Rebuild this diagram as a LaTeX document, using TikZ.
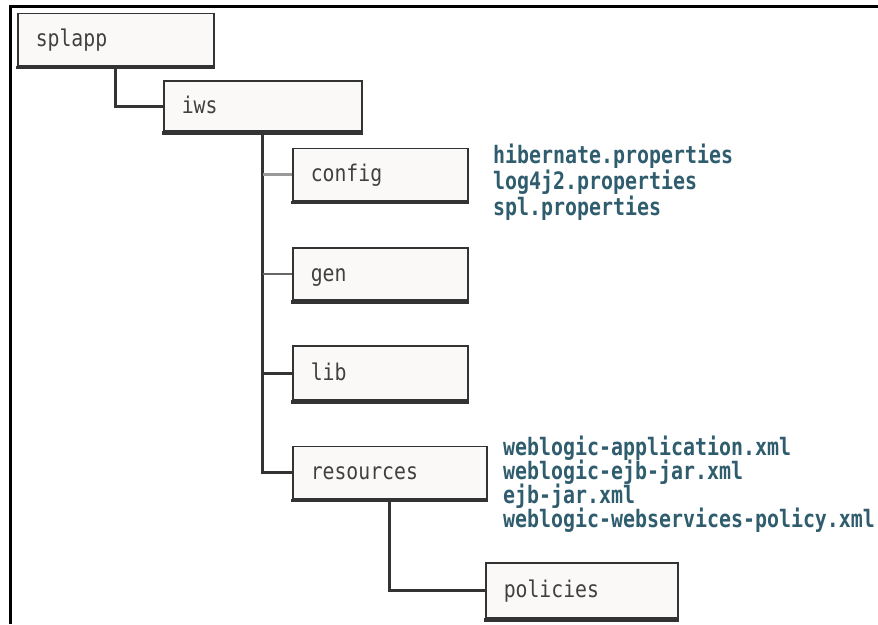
\documentclass[tikz,border=0pt]{standalone}
\usepackage{fontspec}
\newfontfamily\dirfont[FakeStretch=0.86]{DejaVu Sans Mono}
\newfontfamily\filefont[FakeStretch=0.83]{DejaVu Sans Mono}
\definecolor{boxline}{HTML}{333333}
\definecolor{boxfill}{HTML}{FAF9F7}
\definecolor{filetext}{HTML}{2F5D6E}
\tikzset{
	folder/.style={draw=boxline, line width=1.5pt, fill=boxfill, anchor=west, minimum height=52pt, inner xsep=18pt, align=left, text height=14pt, text depth=0pt, text=black!75, font=\dirfont\fontsize{23}{26}\selectfont},
	fileitem/.style={anchor=base west, inner sep=0pt, text=filetext, font=\filefont\bfseries\fontsize{24}{26}\selectfont},
	link/.style={draw=boxline, line width=3pt},
}

\begin{document}
\begin{tikzpicture}[x=1pt, y=-1pt]
			\useasboundingbox[fill=white] (0,0) rectangle (878,624);
			\draw[line width=3pt] (10.5,624) -- (10.5,6) -- (878,6);
			\node[folder, text width=160pt] (splapp) at (17,39.5) {splapp};
			\node[folder, text width=162pt, minimum height=50pt] (iws) at (163,106) {iws};
			\node[folder, text width=139pt] (config) at (292,174.5) {config};
			\node[folder, text width=139pt] (gen) at (292,274) {gen};
			\node[folder, text width=139pt, minimum height=54pt] (lib) at (292,373) {lib};
			\node[folder, text width=158pt] (resources) at (292,472.5) {resources};
			\node[folder, text width=156pt, minimum height=55pt] (policies) at (485,590.5) {policies};
			\foreach \n in {splapp,iws,config,gen,lib,resources,policies}
				\draw[boxline, line width=3.5pt] ([shift={(-0.75pt,-1pt)}]\n.south west) -- ([shift={(0.75pt,-1pt)}]\n.south east);
			\draw[link] (splapp.south) |- (iws.west);
			\draw[link] (iws.south) |- (resources.west);
			\draw[link, draw=black!40] (iws.south |- config.west) -- (config.west);
			\draw[link, draw=black!60, line width=1.5pt] (iws.south |- gen.west) -- (gen.west);
			\draw[link] (iws.south |- lib.west) -- (lib.west);
			\draw[link] (resources.south) |- (policies.west);
			\node[fileitem] (hibernate) at (493,163) {hibernate.properties};
			\node[fileitem] (log4j2) at (493,189) {log4j2.properties};
			\node[fileitem] (spl) at (493,215) {spl.properties};
			\node[fileitem] (wlapp) at (503,455) {weblogic-application.xml};
			\node[fileitem] (wlejb) at (503,479) {weblogic-ejb-jar.xml};
			\node[fileitem] (ejbjar) at (503,503) {ejb-jar.xml};
			\node[fileitem] (wlpolicy) at (503,527) {weblogic-webservices-policy.xml};
		\end{tikzpicture}
\end{document}
